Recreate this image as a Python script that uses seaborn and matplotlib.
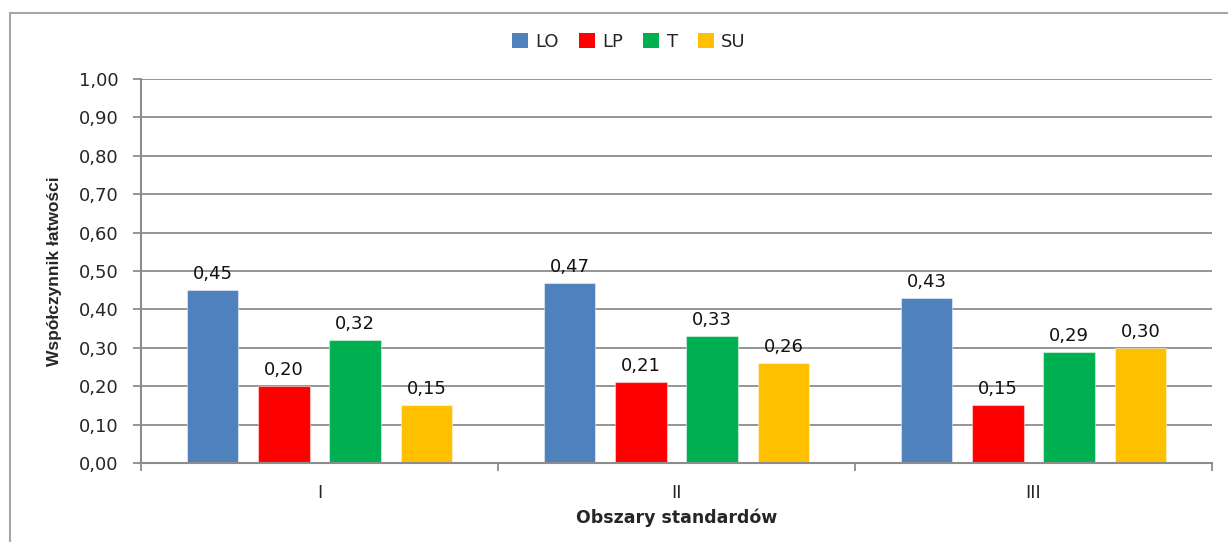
import matplotlib
matplotlib.use("Agg")
import matplotlib.pyplot as plt
from matplotlib.patches import Rectangle, Patch
from matplotlib.ticker import FuncFormatter, FixedLocator
import numpy as np
import pandas as pd
import seaborn as sns

# Wartości współczynnika łatwości w obszarach standardów
areas = ["I", "II", "III"]
schools = ["LO", "LP", "T", "SU"]
lo = [0.45, 0.47, 0.43]
lp = [0.20, 0.21, 0.15]
t = [0.32, 0.33, 0.29]
su = [0.15, 0.26, 0.30]
colors = ["#4F81BD", "#FF0000", "#00B050", "#FFC000"]

series = {"LO": lo, "LP": lp, "T": t, "SU": su}
df = pd.DataFrame(
    [(a, s, series[s][i]) for s in schools for i, a in enumerate(areas)],
    columns=["obszar", "szkola", "wartosc"],
)

sns.set_theme(style="white")
plt.rcParams["font.family"] = ["DejaVu Sans"]

W, H = 1228, 542
fig = plt.figure(figsize=(W / 100, H / 100), dpi=100)
ax = fig.add_axes([141 / W, 1 - 463 / H, (1212 - 141) / W, (463 - 79) / H])

sns.barplot(
    data=df, x="obszar", y="wartosc", hue="szkola",
    order=areas, hue_order=schools, palette=colors,
    width=0.8, gap=0.28, ax=ax, legend=False,
    edgecolor=(1, 1, 1, 0.45), linewidth=0.8, saturation=1, errorbar=None,
)

fmt = lambda v: f"{v:.2f}".replace(".", ",")
for cont in ax.containers:
    vals = [b.get_height() for b in cont]
    ax.bar_label(cont, labels=[fmt(v) for v in vals], padding=5,
                 fontsize=13, color="#111111")

grey = "#8C8C8C"
ax.set_ylim(0, 1.0)
ax.set_xlim(-0.5, 2.5)
ax.set_yticks(np.arange(0, 1.01, 0.1))
ax.yaxis.set_major_formatter(FuncFormatter(lambda v, p: fmt(v)))
ax.yaxis.grid(True, color=grey, linewidth=1.3)
ax.set_axisbelow(True)

# kreski oddzielające kategorie, podpisy pośrodku
ax.xaxis.set_major_locator(FixedLocator([-0.5, 0.5, 1.5, 2.5]))
ax.xaxis.set_minor_locator(FixedLocator([0, 1, 2]))
ax.set_xticklabels([])
ax.set_xticklabels(areas, minor=True)
ax.tick_params(axis="x", which="major", length=6, width=1.3, color=grey, direction="out", bottom=True)
ax.tick_params(axis="x", which="minor", length=0, pad=15, labelsize=13)
ax.tick_params(axis="y", length=6, width=1.3, color=grey, direction="out", left=True,
               pad=10, labelsize=13)

for side in ("top", "right"):
    ax.spines[side].set_visible(False)
for side in ("left", "bottom"):
    ax.spines[side].set_color(grey)
    ax.spines[side].set_linewidth(1.5)

ax.set_xlabel("Obszary standardów", fontsize=12.5, fontweight="bold", labelpad=5)
ax.set_ylabel("Współczynnik łatwości", fontsize=12.5, fontweight="bold",
              family=["Liberation Sans"], labelpad=12)

handles = [Patch(facecolor=c, edgecolor="none") for c in colors]
fig.legend(handles, schools, loc="center", bbox_to_anchor=(629 / W, 1 - 42 / H),
           ncol=4, frameon=False, fontsize=13, handlelength=0.9, handleheight=0.9,
           handletextpad=0.4, columnspacing=1.1)

# ramka wykresu
fig.patches.append(Rectangle((10 / W, -0.1), 1.2, 1 - 13 / H + 0.1, transform=fig.transFigure,
                             fill=False, edgecolor="#A6A6A6", linewidth=1.5))

fig.savefig("out.png", dpi=100)
